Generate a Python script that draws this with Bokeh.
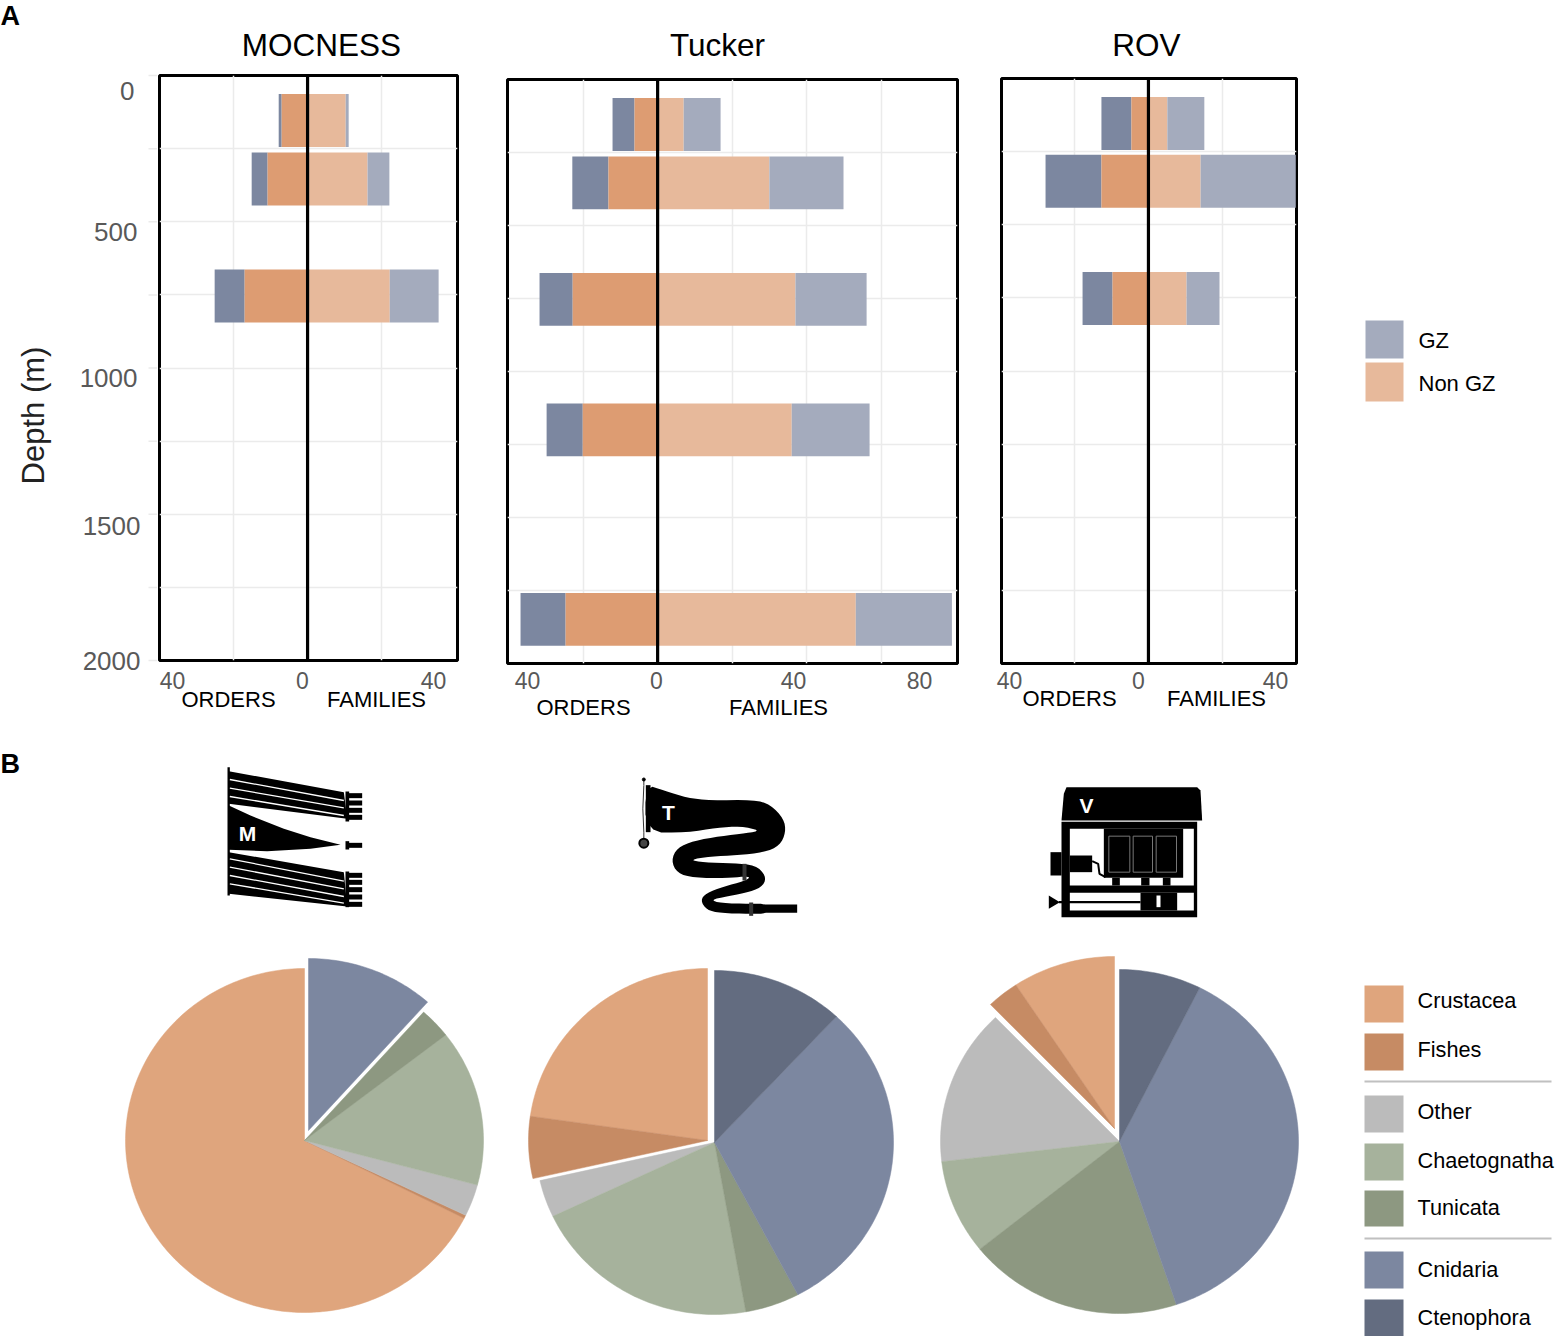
import math
import numpy as np
from bokeh.plotting import figure
from bokeh.layouts import row, column
from bokeh.models import Label, Span, Range1d, FixedTicker
from bokeh.embed import file_html
from bokeh.resources import INLINE

FONT = "Liberation Sans"
GRAY = "#595959"

# ---------- data ----------
panel_names = ["MOCNESS", "Tucker", "ROV"]
depth_bin_height = 181

moc_depth = [154, 354, 754]
moc_orders_non = [7.0, 10.8, 17.0]
moc_orders_gz = [0.8, 4.3, 8.1]
moc_fam_non = [10.3, 16.2, 22.2]
moc_fam_gz = [0.8, 5.9, 13.2]

tuc_depth = [154, 354, 753, 1200, 1849]
tuc_orders_non = [6.2, 13.2, 22.8, 20.1, 24.7]
tuc_orders_gz = [5.9, 9.7, 8.9, 9.7, 12.1]
tuc_fam_non = [7.0, 30.0, 37.0, 36.0, 53.2]
tuc_fam_gz = [9.9, 19.9, 19.1, 20.9, 25.8]

rov_depth = [154, 351, 752]
rov_orders_non = [4.6, 12.7, 9.7]
rov_orders_gz = [8.1, 15.1, 8.1]
rov_fam_non = [5.1, 14.1, 10.3]
rov_fam_gz = [10.0, 25.7, 8.9]

depth_tick_labels = ["0", "500", "1000", "1500", "2000"]
depth_grid = [0, 250, 500, 750, 1000, 1250, 1500, 1750, 2000]

pie_taxa = ["Crustacea", "Fishes", "Other", "Chaetognatha", "Tunicata", "Cnidaria", "Ctenophora"]
pie_colors = ["#dfa57d", "#c68b64", "#bbbbbb", "#a6b29c", "#8d9881", "#7c87a0", "#636c80"]
pie_moc = [67.6, 0.3, 3.0, 14.7, 2.9, 11.6, 0.0]
pie_tuc = [22.7, 5.8, 3.5, 20.7, 4.9, 30.3, 11.9]
pie_rov = [9.3, 2.9, 14.7, 8.9, 19.4, 37.5, 7.4]

C_ORD_GZ, C_ORD_NON, C_FAM_NON, C_FAM_GZ = "#7c87a0", "#dd9c72", "#e7b99b", "#a4abbd"

MID_TOP, MID_BOTTOM, TOP_END = 66, 668, 745


def panel(depth, on, og, fn, fg, x0, x1, frame, abs_x, xgrid):
    L, R, T, B = frame
    ax0, ax1 = abs_x
    p = figure(width=ax1 - ax0, height=MID_BOTTOM - MID_TOP, x_range=Range1d(x0, x1), y_range=Range1d(2000, 0),
               toolbar_location=None, output_backend="svg", frame_align=False,
               min_border_left=L - ax0, min_border_right=ax1 - R,
               min_border_top=T - MID_TOP, min_border_bottom=MID_BOTTOM - B)
    p.xaxis.visible = False
    p.yaxis.visible = False
    p.xgrid.ticker = FixedTicker(ticks=xgrid)
    p.ygrid.ticker = FixedTicker(ticks=depth_grid[1:-1])
    p.grid.grid_line_color = "#ebebeb"
    p.grid.grid_line_width = 1.5
    p.outline_line_color = "black"
    p.outline_line_width = 3
    p.outline_line_alpha = 1
    on, og, fn, fg = map(np.array, (on, og, fn, fg))
    p.hbar(y=depth, height=depth_bin_height, left=-(on + og), right=-on, color=C_ORD_GZ, line_width=0)
    p.hbar(y=depth, height=depth_bin_height, left=-on, right=0, color=C_ORD_NON, line_width=0)
    p.hbar(y=depth, height=depth_bin_height, left=0, right=fn, color=C_FAM_NON, line_width=0)
    p.hbar(y=depth, height=depth_bin_height, left=fn, right=fn + fg, color=C_FAM_GZ, line_width=0)
    p.add_layout(Span(location=0, dimension="height", line_color="black", line_width=3.2))
    return p


def canvas(x0, x1, y0, y1):
    c = figure(width=x1 - x0, height=y1 - y0, x_range=Range1d(x0, x1), y_range=Range1d(y1, y0),
               toolbar_location=None, output_backend="svg", min_border=0, frame_align=False)
    c.axis.visible = False
    c.grid.visible = False
    c.outline_line_color = None
    return c


def canvas_text(c, x, y, text, size, color="black", align="left", style="normal", angle=0):
    c.add_layout(Label(x=x, y=y, text=text, text_font=FONT, text_font_size=f"{size}px",
                       text_color=color, text_align=align, text_baseline="middle",
                       text_font_style=style, angle=angle))


def swatch(c, x0, x1, y0, y1, color):
    c.quad(left=x0, right=x1, top=y0, bottom=y1, color=color, line_width=0)


# ---------- panel A ----------
LEFT_W = 157
F1 = (159, 457, 75, 660)
F2 = (507, 957, 79, 663)
F3 = (1001, 1296, 78, 663)
p1 = panel(moc_depth, moc_orders_non, moc_orders_gz, moc_fam_non, moc_fam_gz, -40.0, 40.5, F1, (LEFT_W, 482), [-20, 20])
p2 = panel(tuc_depth, tuc_orders_non, tuc_orders_gz, tuc_fam_non, tuc_fam_gz, -40.3, 80.5, F2, (482, 977), [-20, 20, 40, 60])
p3 = panel(rov_depth, rov_orders_non, rov_orders_gz, rov_fam_non, rov_fam_gz, -39.7, 40.0, F3, (977, 1300), [-20, 20])

header = canvas(0, 1555, 0, MID_TOP)
canvas_text(header, 0, 15, "A", 27, style="bold")
for tx, name in zip((321, 717, 1146), panel_names):
    canvas_text(header, tx, 44, name, 31.5, align="center")

left = canvas(0, LEFT_W, MID_TOP, TOP_END)
canvas_text(left, 33, 415, "Depth (m)", 31, color="#222222", align="center", angle=math.pi / 2)
for lab, xr, y in zip(depth_tick_labels, (134, 137, 137, 140, 140), (90, 231, 377, 525, 660)):
    canvas_text(left, xr, y, lab, 26, color=GRAY, align="right")
for d in depth_grid:
    y = F1[2] + (F1[3] - F1[2]) * d / 2000
    left.line([148, LEFT_W], [y, y], line_color="#ebebeb", line_width=1.5)

footer = canvas(LEFT_W, 1555, MID_BOTTOM, TOP_END)
for lab, x in zip(("40", "0", "40", "40", "0", "40", "80", "40", "0", "40"),
                  (172, 302, 433, 527, 656, 793, 919, 1009, 1138, 1275)):
    canvas_text(footer, x, 680, lab, 23, color=GRAY, align="center")
for x, y, lab in ((228, 699, "ORDERS"), (376, 699, "FAMILIES"), (583, 707, "ORDERS"), (778, 707, "FAMILIES"),
                  (1069, 698, "ORDERS"), (1216, 698, "FAMILIES")):
    canvas_text(footer, x, y, lab, 22, align="center")

leg_a = canvas(1300, 1555, MID_TOP, MID_BOTTOM)
swatch(leg_a, 1365, 1403, 320, 358, C_FAM_GZ)
swatch(leg_a, 1365, 1403, 362, 401, C_FAM_NON)
canvas_text(leg_a, 1418, 340, "GZ", 22)
canvas_text(leg_a, 1418, 383, "Non GZ", 22)

# ---------- icons and panel B label ----------
strip = canvas(0, 1555, TOP_END, 940)
canvas_text(strip, 0, 763, "B", 27, style="bold")


def chaikin(pts, n=2):
    a = np.array(pts, dtype=float)
    for _ in range(n):
        b = np.roll(a, -1, axis=0)
        a = np.column_stack((0.75 * a + 0.25 * b, 0.25 * a + 0.75 * b)).reshape(-1, 2)
    return [tuple(q) for q in a]


def z(ox, oy, pts):
    return [ox + a / 3 for a, _ in pts], [oy + b / 3 for _, b in pts]


def poly(ox, oy, pts, color="black"):
    xs, ys = z(ox, oy, pts)
    strip.patch(xs, ys, color=color, line_width=0)


def seg(ox, oy, pts, width, color="white"):
    xs, ys = z(ox, oy, pts)
    strip.line(xs, ys, line_color=color, line_width=width)


def box(ox, oy, a, b, c, d, color="black"):
    poly(ox, oy, [(a, b), (c, b), (c, d), (a, d)], color)


# MOCNESS icon
O = (200, 750)
box(*O, 81, 50, 88, 435)
poly(*O, [(85, 62), (430, 125), (440, 205), (85, 160)])
for y0, y1 in ((87, 150), (113, 172), (138, 195)):
    seg(*O, [(88, y0), (430, y1)], 1.3)
poly(*O, [(85, 305), (430, 365), (440, 468), (85, 430)])
for y0, y1 in ((325, 392), (350, 415), (375, 438), (400, 458)):
    seg(*O, [(88, y0), (430, y1)], 1.3)
poly(*O, [(85, 165), (150, 195), (250, 235), (330, 260), (420, 283), (330, 295), (200, 302), (85, 298)])
box(*O, 435, 123, 446, 213)
box(*O, 435, 272, 446, 297)
box(*O, 435, 363, 446, 470)
for y0 in (128, 150, 172, 193, 277, 367, 388, 410, 432, 454):
    box(*O, 440, y0, 485, y0 + 15)
canvas_text(strip, 247, 833, "M", 21, color="white", align="center", style="bold")

# Tucker icon
O = (620, 760)
body = chaikin([(75, 72), (130, 90), (200, 112), (270, 120), (400, 118), (450, 132), (490, 175), (496, 215),
                (478, 255), (430, 276), (350, 284), (270, 288), (206, 298), (250, 306), (340, 308), (405, 314),
                (436, 345), (430, 375), (390, 394), (320, 408), (270, 418), (300, 428), (390, 430),
                (440, 430), (440, 460), (390, 460), (300, 458), (258, 448), (240, 420), (256, 398), (310, 378), (370, 362),
                (390, 350), (370, 348), (320, 353), (220, 352), (170, 338), (152, 300), (170, 262), (220, 241),
                (300, 227), (380, 218), (420, 210), (360, 197), (290, 202), (200, 216), (75, 216)])
poly(*O, body)
box(*O, 76, 74, 90, 215)
box(*O, 430, 432, 530, 457)
seg(*O, [(70, 57), (70, 75), (67, 145), (70, 215), (70, 248)], 1.0, "#333333")
strip.scatter([620 + 70 / 3], [760 + 248 / 3], size=9, fill_color="#444444", line_color="black", line_width=2)
strip.scatter([620 + 70 / 3], [760 + 57 / 3], size=3, color="black")
box(*O, 366, 310, 378, 360, "#333333")
box(*O, 386, 426, 398, 466, "#333333")
canvas_text(strip, 668, 812, "T", 21, color="white", align="center", style="bold")

# ROV icon
O = (1030, 770)
poly(*O, [(108, 50), (500, 50), (510, 60), (515, 150), (93, 150), (100, 70)])
box(*O, 93, 154, 500, 440)
box(*O, 118, 175, 490, 345, "white")
box(*O, 118, 367, 490, 420, "white")
box(*O, 220, 175, 458, 322)
for a, c in ((235, 298), (308, 366), (377, 438)):
    seg(*O, [(a, 197), (c, 197), (c, 305), (a, 305), (a, 197)], 1.0, "#777777")
for a, c in ((245, 268), (332, 357), (397, 420)):
    box(*O, a, 322, c, 345)
box(*O, 118, 255, 185, 305)
seg(*O, [(185, 272), (203, 280), (207, 310), (225, 320)], 2.0, "black")
box(*O, 60, 245, 93, 315)
poly(*O, [(55, 375), (88, 395), (55, 415)])
seg(*O, [(85, 395), (330, 395)], 2.4, "black")
box(*O, 330, 367, 440, 420)
box(*O, 378, 375, 390, 410, "white")
canvas_text(strip, 1086, 805, "V", 21, color="white", align="center", style="bold")


# ---------- pies ----------
RX, RY = 179, 172
PIE_TOP, PIE_BOTTOM = 940, 1336


def pie(values, cx, cy, x0, x1, explode):
    p = figure(width=x1 - x0, height=PIE_BOTTOM - PIE_TOP,
               x_range=Range1d((x0 - cx) / RX, (x1 - cx) / RX),
               y_range=Range1d((cy - PIE_BOTTOM) / RY, (cy - PIE_TOP) / RY),
               toolbar_location=None, output_backend="svg", min_border=0, frame_align=False)
    p.axis.visible = False
    p.grid.visible = False
    p.outline_line_color = None
    v = np.array(values, dtype=float)
    frac = v / v.sum()
    edges = math.pi / 2 + 2 * math.pi * np.concatenate(([0], np.cumsum(frac)))
    order = [i for i in range(len(v)) if pie_taxa[i] not in explode] + \
            [i for i in range(len(v)) if pie_taxa[i] in explode]
    for i in order:
        if v[i] <= 0:
            continue
        t = np.linspace(edges[i], edges[i + 1], max(int(frac[i] * 360), 3))
        dx, dy = explode.get(pie_taxa[i], (0, 0))
        xs = np.concatenate(([0], np.cos(t))) + dx / RX
        ys = np.concatenate(([0], np.sin(t))) + dy / RY
        p.patch(xs, ys, fill_color=pie_colors[i], line_color=pie_colors[i], line_width=0.5)
    return p


q1 = pie(pie_moc, 304, 1140, 0, 510, {"Cnidaria": (4, 10)})
q2 = pie(pie_tuc, 714, 1142, 510, 925, {"Crustacea": (-7, 2), "Fishes": (-7, 2)})
q3 = pie(pie_rov, 1119, 1141, 925, 1305, {"Crustacea": (-5, 13), "Fishes": (-5, 13)})

leg_b = canvas(1305, 1555, PIE_TOP, PIE_BOTTOM)
swatch_rows = [(985, 1022), (1033, 1070), (1095, 1132), (1143, 1180), (1190, 1226), (1251, 1288), (1299, 1336)]
text_rows = [1000, 1049, 1111, 1160, 1207, 1269, 1317]
for name, col, (y0, y1), ty in zip(pie_taxa, pie_colors, swatch_rows, text_rows):
    swatch(leg_b, 1364, 1403, y0, y1, col)
    canvas_text(leg_b, 1417, ty, name, 21.7)
for y in (1081, 1238):
    leg_b.line([1364, 1551], [y, y], line_color="#c0c0c0", line_width=2)

top_block = row(left, column(row(p1, p2, p3, leg_a, spacing=0), footer, spacing=0), spacing=0)
layout = column(header, top_block, strip, row(q1, q2, q3, leg_b, spacing=0), spacing=0)
open("out.html", "w").write(file_html(layout, INLINE))
